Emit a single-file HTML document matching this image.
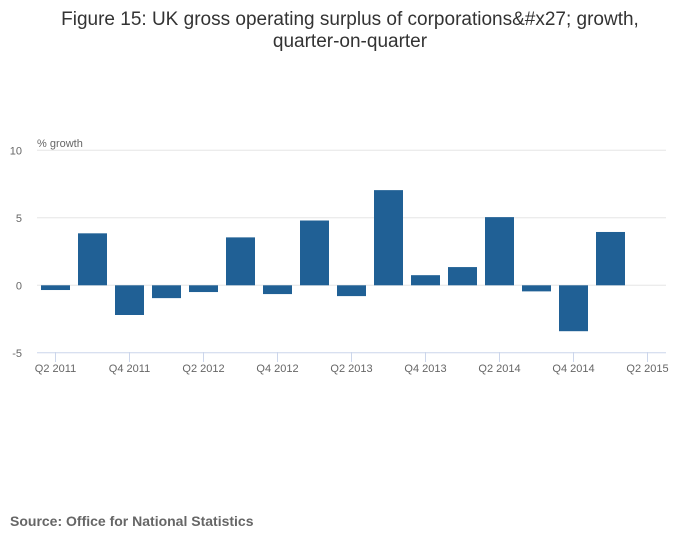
<!DOCTYPE html>
<html><head><meta charset="utf-8"><style>
body{margin:0;background:#fff;font-family:"Liberation Sans",sans-serif}
</style></head><body>
<svg width="700" height="549" xmlns="http://www.w3.org/2000/svg" font-family="Liberation Sans, sans-serif">
<rect width="700" height="549" fill="#fff"/>
<text x="350" y="25" text-anchor="middle" font-size="19" fill="#333">Figure 15: UK gross operating surplus of corporations&amp;#x27; growth,</text>
<text x="350" y="47" text-anchor="middle" font-size="19" fill="#333">quarter-on-quarter</text>
<text x="37" y="147" font-size="11" fill="#666">% growth</text>
<g id="grid"></g><g id="bars"></g><g id="xaxis"></g>
<text x="10" y="526" font-size="14" font-weight="bold" fill="#666">Source: Office for National Statistics</text>
</svg>
<script>
const categories=["Q2 2011","Q3 2011","Q4 2011","Q1 2012","Q2 2012","Q3 2012","Q4 2012","Q1 2013","Q2 2013","Q3 2013","Q4 2013","Q1 2014","Q2 2014","Q3 2014","Q4 2014","Q1 2015","Q2 2015"];
const values=[-0.35,3.85,-2.2,-0.95,-0.5,3.55,-0.65,4.8,-0.8,7.05,0.75,1.35,5.05,-0.45,-3.4,3.95,null];
const yTicks=[10,5,0,-5];
const xTickLabels=["Q2 2011","Q4 2011","Q2 2012","Q4 2012","Q2 2013","Q4 2013","Q2 2014","Q4 2014","Q2 2015"];
const NS="http://www.w3.org/2000/svg";
const L=37,R=666,band=(R-L)/categories.length;
function y(v){return 285.3-v*13.5;}
function xc(i){return L+band*(i+0.5);}
function mk(t,a,p){const e=document.createElementNS(NS,t);for(const k in a)e.setAttribute(k,a[k]);p.appendChild(e);return e;}
const g=document.getElementById('grid'),b=document.getElementById('bars'),xa=document.getElementById('xaxis');
yTicks.forEach(t=>{
 const l=mk('line',{x1:L,x2:R,y1:y(t),y2:y(t),stroke:t===-5?'#ccd6eb':'#e6e6e6','stroke-width':1},g);
 
 
 const tx=mk('text',{x:22,y:y(t)+4,'text-anchor':'end','font-size':11,fill:'#666'},g);
 tx.textContent=t;
 
 
});
values.forEach((v,i)=>{
 if(v===null)return;
 const r=mk('rect',{x:xc(i)-14.5,width:29,y:Math.min(y(v),y(0)),height:Math.abs(y(v)-y(0)),fill:'#206095'},b);
 
 
});
xTickLabels.forEach(lb=>{
 const i=categories.indexOf(lb);
 const l=mk('line',{x1:xc(i),x2:xc(i),y1:352,y2:362,stroke:'#ccd6eb'},xa);
 
 
 const t=mk('text',{x:xc(i),y:372,'text-anchor':'middle','font-size':11,fill:'#666'},xa);
 t.textContent=lb;
 
 
});
</script>
</body></html>
